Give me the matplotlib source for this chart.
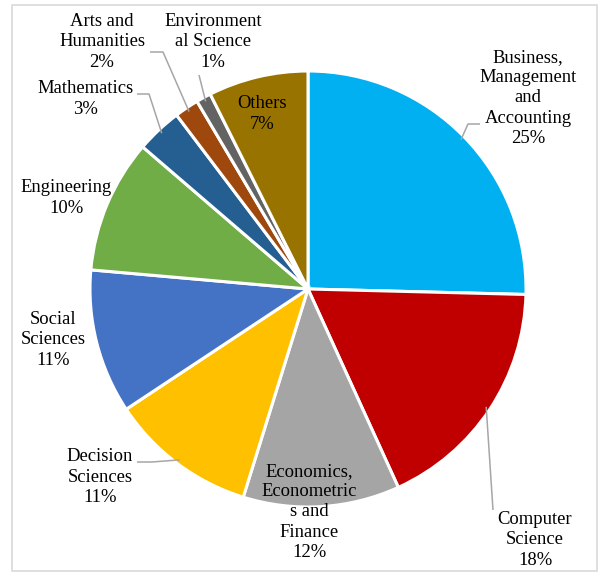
import numpy as np
import matplotlib
matplotlib.use("Agg")
import matplotlib.pyplot as plt
from matplotlib.patches import Rectangle

# Share of publications by subject area (percent)
subjects = [
    "Business,\nManagement\nand\nAccounting",
    "Computer\nScience",
    "Economics,\nEconometric\ns and\nFinance",
    "Decision\nSciences",
    "Social\nSciences",
    "Engineering",
    "Mathematics",
    "Arts and\nHumanities",
    "Environment\nal Science",
    "Others",
]
shares = [25.4, 17.8, 11.6, 10.9, 10.7, 9.9, 3.4, 1.8, 1.1, 7.4]
colors = ["#00B0F0", "#C00000", "#A5A5A5", "#FFC000", "#4472C4",
          "#70AD47", "#255E91", "#9E480E", "#636363", "#997300"]

W, H = 602, 574
fig = plt.figure(figsize=(W / 100, H / 100), dpi=100)
ax = fig.add_axes([0, 0, 1, 1])

plt.rcParams["font.family"] = ["Liberation Serif", "DejaVu Serif"]
FS = 13.4


def py(y):
    # convert a top-down pixel row into the axes' y coordinate
    return H - y


cx, cy, r = 308, py(289), 218
wedges, _ = ax.pie(shares, colors=colors, startangle=90, counterclock=False,
                   center=(cx, cy), radius=r, frame=True,
                   wedgeprops=dict(edgecolor="white", linewidth=2.2))
ax.set_xlim(0, W)
ax.set_ylim(0, H)
ax.set_aspect("equal")
ax.axis("off")

# chart-area border
ax.add_patch(Rectangle((12, py(571)), 585, 566.5, fill=False,
                       edgecolor="#d9d9d9", linewidth=1.2))

# label centres (x, top-down y)
label_pos = [
    (528, 98), (535, 540), (309, 512), (100, 477), (53, 340),
    (66, 198), (85, 99), (102, 42), (213, 42), (262, 114),
]
for name, val, (lx, ly) in zip(subjects, shares, label_pos):
    ax.text(lx, py(ly), f"{name}\n{val:.0f}%", ha="center", va="center",
            fontsize=FS, linespacing=1.24, color="#000000")


def edge_point(i, frac=1.0):
    w = wedges[i]
    th = np.deg2rad((w.theta1 + w.theta2) / 2)
    return cx + r * frac * np.cos(th), cy + r * frac * np.sin(th)


# leader lines: text-side points, then the wedge edge
leaders = {
    0: [(480, 124), (468, 124)],
    1: [(493, 510)],
    3: [(137, 462), (152, 462)],
    6: [(137, 94), (149, 94)],
    7: [(150, 52), (163, 52)],
    8: [(199, 75)],
}
for i, pts in leaders.items():
    xs = [p[0] for p in pts]
    ys = [py(p[1]) for p in pts]
    ex, ey = edge_point(i, 0.98)
    xs.append(ex)
    ys.append(ey)
    ax.plot(xs, ys, color="#a6a6a6", linewidth=1.1, solid_capstyle="butt")

fig.savefig("out.png", dpi=100)
